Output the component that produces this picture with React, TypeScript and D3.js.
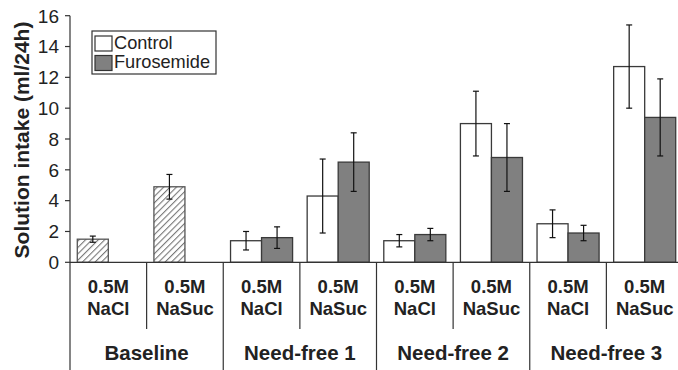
import React from "react";
import * as d3 from "d3";

const groups = ["Baseline", "Need-free 1", "Need-free 2", "Need-free 3"];
const solutions = ["NaCl", "NaSuc"];
const series = ["Control", "Furosemide"];

// baseline only has one bar per solution (hatched)
const baselineMeans = [1.5, 4.9];
const baselineErr = [0.2, 0.8];

// need-free 1..3, order NaCl, NaSuc
const controlMeans = [1.4, 4.3, 1.4, 9.0, 2.5, 12.7];
const controlErr = [0.6, 2.4, 0.4, 2.1, 0.9, 2.7];
const furoMeans = [1.6, 6.5, 1.8, 6.8, 1.9, 9.4];
const furoErr = [0.7, 1.9, 0.4, 2.2, 0.5, 2.5];

const yTicks = [0, 2, 4, 6, 8, 10, 12, 14, 16];

const W = 678, H = 370;
const font = "'Liberation Sans', Arial, Helvetica, sans-serif";

export default function App() {
	const x0 = 70, x1 = 683, yTop = 15.7, yZero = 262.3;

	const cats = groups.flatMap(g => solutions.map(s => `${g}|${s}`));

	const x = d3.scaleBand().domain(cats).range([x0, x1]).padding(0);
	const xSub = d3.scaleBand().domain(series).range([0, x.bandwidth()])
		.paddingOuter(0.235).paddingInner(0);
	const y = d3.scaleLinear().domain([0, 16]).range([yZero, yTop]);

	let bars: any[] = [];
	solutions.forEach((s, i) => {
		bars.push({cat: `${groups[0]}|${s}`, ser: "Control", v: baselineMeans[i], e: baselineErr[i], kind: "hatch"});
	});
	groups.slice(1).forEach((g, gi) => {
		solutions.forEach((s, si) => {
			let k = gi * 2 + si;
			bars.push({cat: `${g}|${s}`, ser: "Control", v: controlMeans[k], e: controlErr[k], kind: "Control"});
			bars.push({cat: `${g}|${s}`, ser: "Furosemide", v: furoMeans[k], e: furoErr[k], kind: "Furosemide"});
		});
	});

	const fillOf = (k: string) => k === "hatch" ? "url(#hatch)" : k === "Control" ? "#ffffff" : "#808080";
	const bw = xSub.bandwidth();

	return (
		<svg width={W} height={H} style={{position: "absolute", left: 0, top: 0, background: "#fff"}}
			 fontFamily={font}>
			<defs>
				<pattern id="hatch" patternUnits="userSpaceOnUse" width="4.5" height="4.5" patternTransform="rotate(45)">
					<rect width="4.5" height="4.5" fill="#fff" />
					<line x1="0" y1="0" x2="0" y2="4.5" stroke="#777" strokeWidth="2.2" />
				</pattern>
			</defs>

			{/* bars */}
			{bars.map((b, i) => {
				let bx = (x(b.cat) as number) + (xSub(b.ser) as number);
				let cx = bx + bw / 2;
				return (
					<g key={i}>
						<rect x={bx} y={y(b.v)} width={bw} height={yZero - y(b.v)}
							  fill={fillOf(b.kind)} stroke={b.kind === "hatch" ? "#555" : "#3a3a3a"} strokeWidth={1.3} />
						<line x1={cx} x2={cx} y1={y(b.v + b.e)} y2={y(b.v - b.e)} stroke="#111" strokeWidth={1.2} />
						<line x1={cx - 3} x2={cx + 3} y1={y(b.v + b.e)} y2={y(b.v + b.e)} stroke="#111" strokeWidth={1.2} />
						<line x1={cx - 3} x2={cx + 3} y1={y(b.v - b.e)} y2={y(b.v - b.e)} stroke="#111" strokeWidth={1.2} />
					</g>
				);
			})}

			{/* y axis */}
			<line x1={x0} x2={x0} y1={yTop} y2={H} stroke="#333" strokeWidth={1.2} />
			{yTicks.map(t => (
				<g key={t}>
					<line x1={x0 - 5} x2={x0} y1={y(t)} y2={y(t)} stroke="#333" strokeWidth={1.2} />
					<text x={x0 - 11} y={y(t)} dy="0.36em" textAnchor="end" fontSize={19} fill="#222">{t}</text>
				</g>
			))}
			<text transform={`translate(29, ${(yTop + yZero) / 2 + 1}) rotate(-90)`} textAnchor="middle"
				  fontSize={21} fontWeight="bold" fill="#222">Solution intake (ml/24h)</text>

			{/* x axis */}
			<line x1={x0} x2={W} y1={yZero} y2={yZero} stroke="#333" strokeWidth={1.2} />
			{cats.map((c, i) => {
				let cx = (x(c) as number) + x.bandwidth() / 2;
				let sol = c.split("|")[1];
				return (
					<g key={c}>
						{i % 2 === 1 && <line x1={x(c)} x2={x(c)} y1={yZero} y2={329} stroke="#333" strokeWidth={1.2} />}
						{i % 2 === 0 && i > 0 && <line x1={x(c)} x2={x(c)} y1={yZero} y2={H} stroke="#333" strokeWidth={1.2} />}
						<text x={cx} y={292.5} textAnchor="middle" fontSize={18.5} fontWeight="bold" fill="#222">0.5M</text>
						<text x={cx} y={314.5} textAnchor="middle" fontSize={18.5} fontWeight="bold" fill="#222">{sol}</text>
					</g>
				);
			})}
			{groups.map(g => (
				<text key={g} x={x(`${g}|NaSuc`)} y={359.5} textAnchor="middle" fontSize={20.5}
					  fontWeight="bold" fill="#222">{g}</text>
			))}

			{/* legend */}
			<rect x={92} y={31} width={124} height={43} fill="#fff" stroke="#333" strokeWidth={1.2} />
			{series.map((s, i) => (
				<g key={s}>
					<rect x={95} y={36 + i * 19.5} width={17} height={15} fill={i === 0 ? "#fff" : "#808080"}
						  stroke="#333" strokeWidth={1.2} />
					<text x={114} y={48.8 + i * 19.5} fontSize={18.2} fill="#222">{s}</text>
				</g>
			))}
		</svg>
	);
}
